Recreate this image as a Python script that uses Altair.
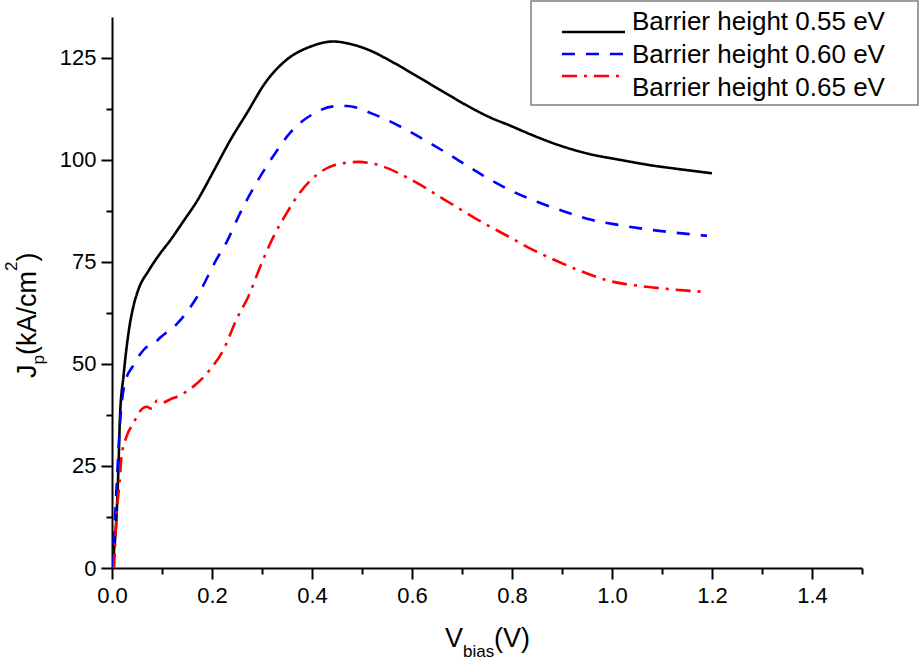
import altair as alt
import pandas as pd

# ---------------- data ----------------
names = ["Barrier height 0.55 eV", "Barrier height 0.60 eV", "Barrier height 0.65 eV"]
colors = ["#000000", "#0000ff", "#ff0000"]
dashes = [[1, 0], [13, 11], [15, 7, 3, 7]]

x055 = [0.0, 0.003, 0.009, 0.013, 0.016, 0.023, 0.033, 0.043, 0.053, 0.073, 0.093, 0.119,
        0.143, 0.169, 0.203, 0.236, 0.269, 0.309, 0.349, 0.396, 0.443, 0.476, 0.516, 0.556,
        0.596, 0.636, 0.676, 0.716, 0.756, 0.796, 0.836, 0.896, 0.956, 1.016, 1.076, 1.136, 1.2]
y055 = [0.0, 3.0, 12.6, 24.9, 37.2, 47.0, 57.6, 64.2, 68.3, 72.8, 76.5, 80.7,
        85.0, 89.7, 97.2, 104.7, 111.3, 119.3, 124.5, 127.7, 129.0, 128.4, 126.8, 124.3,
        121.5, 118.6, 115.7, 112.9, 110.4, 108.4, 106.3, 103.5, 101.4, 100.0, 98.7, 97.7, 96.7]

x060 = [0.0, 0.005, 0.010, 0.016, 0.026, 0.043, 0.056, 0.070, 0.083, 0.096, 0.129, 0.146,
        0.169, 0.209, 0.229, 0.256, 0.289, 0.323, 0.356, 0.403, 0.443, 0.47, 0.523, 0.579,
        0.633, 0.689, 0.743, 0.799, 0.853, 0.906, 0.959, 1.016, 1.069, 1.123, 1.19]
y060 = [0.0, 10.0, 22.0, 35.5, 45.4, 49.7, 52.3, 54.2, 54.8, 56.4, 59.7, 62.1,
        66.2, 75.6, 79.8, 86.9, 94.4, 101.0, 106.6, 111.3, 113.1, 113.2, 111.2, 108.0,
        104.3, 100.2, 96.1, 92.4, 89.6, 87.3, 85.3, 84.0, 83.0, 82.2, 81.4]

x065 = [0.004, 0.006, 0.009, 0.015, 0.019, 0.029, 0.043, 0.056, 0.069, 0.080, 0.090, 0.100,
        0.116, 0.139, 0.163, 0.196, 0.223, 0.249, 0.273, 0.296, 0.323, 0.349, 0.376, 0.409,
        0.443, 0.493, 0.536, 0.596, 0.663, 0.729, 0.796, 0.836, 0.883, 0.936, 0.996, 1.056,
        1.116, 1.179]
y065 = [0.0, 5.0, 12.6, 20.8, 27.3, 32.2, 35.5, 38.4, 39.5, 39.0, 41.0, 40.5,
        41.3, 42.5, 44.5, 48.6, 53.5, 60.9, 66.6, 73.7, 81.2, 86.9, 92.0, 96.3,
        98.6, 99.5, 98.6, 95.3, 90.4, 85.5, 81.0, 78.3, 75.6, 72.8, 70.3, 69.1,
        68.3, 67.7]

x_ticks = [0.0, 0.1, 0.2, 0.3, 0.4, 0.5, 0.6, 0.7, 0.8, 0.9, 1.0, 1.1, 1.2, 1.3, 1.4, 1.5]
y_ticks = [0, 12.5, 25, 37.5, 50, 62.5, 75, 87.5, 100, 112.5, 125]
x_domain = [0, 1.5]
y_domain = [0, 135]

rows = []
for nm, xs, ys in zip(names, [x055, x060, x065], [y055, y060, y065]):
    for i, (a, b) in enumerate(zip(xs, ys)):
        rows.append({"series": nm, "V": a, "J": b, "idx": i})
df = pd.DataFrame(rows)
leg_df = pd.DataFrame({"series": names})
one = pd.DataFrame({"k": [0]})

FONT = "Liberation Sans"
W, H = 750, 551

color_scale = alt.Scale(domain=names, range=colors)
dash_scale = alt.Scale(domain=names, range=dashes)

axis_common = dict(
    domainColor="black", domainWidth=2, tickColor="black", tickWidth=2,
    labelColor="black", labelFont=FONT, labelFontSize=22, grid=False,
    labelOverlap=False, labelFlush=False, labelBound=False, title=None,
)

lines = alt.Chart(df).mark_line(strokeWidth=2.6, interpolate="monotone", clip=True).encode(
    x=alt.X("V:Q", scale=alt.Scale(domain=x_domain, nice=False, zero=False),
            axis=alt.Axis(values=x_ticks, format=".1f",
                          labelExpr="round(datum.value*10) % 2 === 0 ? format(datum.value, '.1f') : ''",
                          tickSize={"condition": {"test": "round(datum.value*10) % 2 === 0", "value": 11}, "value": 6},
                          labelPadding=6, **axis_common)),
    y=alt.Y("J:Q", scale=alt.Scale(domain=y_domain, nice=False, zero=False),
            axis=alt.Axis(values=y_ticks,
                          labelExpr="datum.value % 25 === 0 ? format(datum.value, 'd') : ''",
                          tickSize={"condition": {"test": "datum.value % 25 === 0", "value": 11}, "value": 6},
                          labelPadding=5, **axis_common)),
    color=alt.Color("series:N", scale=color_scale, legend=None),
    strokeDash=alt.StrokeDash("series:N", scale=dash_scale, legend=None),
    order="idx:Q",
)

# ---------------- legend (drawn manually) ----------------
leg_box = alt.Chart(one).mark_rect(fill="white", stroke="#7f7f7f", strokeWidth=1.5).encode(
    x=alt.value(419), x2=alt.value(806), y=alt.value(-16), y2=alt.value(88)
)
leg_lines = alt.Chart(leg_df).mark_rule(strokeWidth=2.6).encode(
    x=alt.value(450), x2=alt.value(513),
    y=alt.Y("series:N", scale=alt.Scale(domain=names, range=[4, 70], padding=0), axis=None),
    color=alt.Color("series:N", scale=color_scale, legend=None),
    strokeDash=alt.StrokeDash("series:N", scale=dash_scale, legend=None),
)
leg_text = alt.Chart(leg_df).mark_text(align="left", baseline="alphabetic", font=FONT,
                                       fontSize=26, color="black").encode(
    x=alt.value(520),
    y=alt.Y("series:N", scale=alt.Scale(domain=names, range=[12.5, 78.5], padding=0), axis=None),
    text="series:N",
)

# ---------------- axis titles with sub/superscripts ----------------
def txt(s, x, y, size, angle=0):
    return alt.Chart(one).mark_text(text=s, align="left", baseline="alphabetic", font=FONT,
                                     fontSize=size, angle=angle, color="black").encode(
        x=alt.value(x), y=alt.value(y))

xt = [txt("V", 333, 630, 27), txt("bias", 351, 640, 17), txt("(V)", 382, 630, 27)]
yt = [txt("J", -76, 361, 27, 270), txt("p", -68, 347.5, 17, 270),
      txt("(kA/cm", -76, 338, 27, 270), txt("2", -95, 254, 17, 270),
      txt(")", -76, 244.5, 27, 270)]

chart = alt.layer(lines, leg_box, leg_lines, leg_text, *xt, *yt).resolve_scale(
    y="independent"
).properties(
    width=W, height=H,
    autosize=alt.AutoSizeParams(type="none"),
    padding={"left": 112, "top": 17, "right": 58, "bottom": 94},
    background="white",
).configure_view(stroke=None)

chart.save("out.html", embed_options={"renderer": "svg", "actions": False})
